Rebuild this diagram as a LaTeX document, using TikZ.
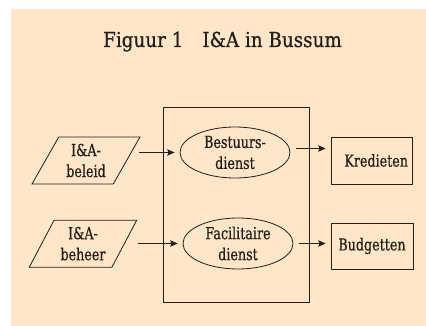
\documentclass[tikz,border=0pt]{standalone}
\usepackage{fontspec}
\setmainfont{DejaVu Serif}[FakeStretch=0.77, FakeBold=0.6]
\newfontfamily\titlefont{DejaVu Serif}[FakeStretch=0.89, FakeBold=0.6]
\usetikzlibrary{shapes.geometric,arrows.meta,positioning}
\definecolor{peach}{RGB}{255,230,200}
\definecolor{ink}{RGB}{35,30,25}
\tikzset{
  every node/.style={font=\fontsize{16.5}{21}\selectfont, text=ink},
  title/.style={font=\titlefont\fontsize{20.6}{26}\selectfont, anchor=base},
  inputbox/.style={draw=ink, line width=0.8pt, trapezium, trapezium left angle=60,
    trapezium right angle=120, trapezium stretches=true,
    minimum width=108pt, minimum height=47pt, align=center, inner sep=0pt},
  service/.style={draw=ink, line width=0.8pt, ellipse, minimum width=110pt,
    minimum height=51pt, align=center, inner sep=0pt},
  outbox/.style={draw=ink, line width=0.8pt, rectangle, minimum width=81pt,
    minimum height=47pt, inner sep=0pt},
  flow/.style={draw=ink, line width=0.8pt, -{Stealth[length=7.5pt,width=6.5pt,inset=1.5pt]},
    shorten >=5pt, shorten <=6pt}}

\begin{document}
\begin{tikzpicture}[x=1pt, y=-1pt]
        \useasboundingbox (0,0) rectangle (426,326);
        \fill[peach] (11,9) rectangle (426,326);
        \node[title] (caption) at (222.5,47) {Figuur 1\hspace{19pt}I\&A in Bussum};
        \node[draw=ink, line width=0.9pt, minimum width=146pt, minimum height=195pt] (dienst) at (236,204.5) {};
        \node[service] (bestuur) at (235,152.5) {Bestuurs-\\dienst};
        \node[service] (facil) at (238,243.5) {Facilitaire\\dienst};
        \node[inputbox] (beleid) at (86,160.5) {I\&A-\\beleid};
        \node[inputbox] (beheer) at (83,243.7) {I\&A-\\beheer};
        \node[outbox, text width=73pt, align=right, inner xsep=4pt] (kred) at (371.5,160.5) {Kredieten};
        \node[outbox, minimum width=82pt, minimum height=46pt] (budget) at (372,246) {Budgetten};
        \draw[flow, shorten <=12pt] (bestuur.west -| beleid.east) -- (bestuur.west);
        \draw[flow, shorten <=13pt] (facil.west -| beheer.east) -- (facil.west);
        \draw[flow] ([yshift=4pt]bestuur.east) -- ([yshift=4pt]bestuur.east -| kred.west);
        \draw[flow] (facil.east) -- (facil.east -| budget.west);
      \end{tikzpicture}
\end{document}
